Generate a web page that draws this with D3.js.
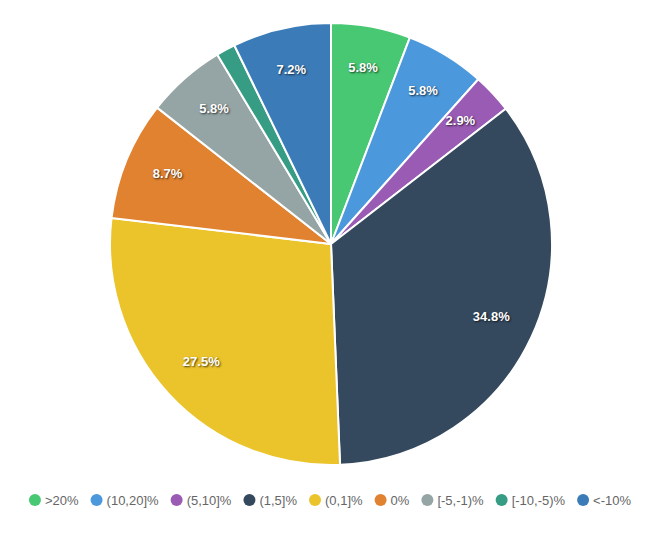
<!DOCTYPE html>
<html>
<head>
<meta charset="utf-8">
<script src="https://cdn.jsdelivr.net/npm/d3@7"></script>
<style>
  html, body { margin: 0; padding: 0; background: #fff; }
  svg { display: block; }
  .lbl { font-family: "Liberation Sans", Arial, sans-serif; font-weight: bold; font-size: 13px; fill: #fff; text-shadow: 1px 1px 2px rgba(0,0,0,0.7); }
  .leg { font-family: "Liberation Sans", Arial, sans-serif; font-size: 13px; fill: #666; }
</style>
</head>
<body>
<svg id="chart" width="664" height="539"></svg>
<script>
const categories = [">20%", "(10,20]%", "(5,10]%", "(1,5]%", "(0,1]%", "0%", "[-5,-1)%", "[-10,-5)%", "<-10%"];
const values = [5.8, 5.8, 2.9, 34.8, 27.5, 8.7, 5.8, 1.4, 7.2];
const labels = ["5.8%", "5.8%", "2.9%", "34.8%", "27.5%", "8.7%", "5.8%", "", "7.2%"];
const colors = ["#48c872", "#4b98dc", "#9a5bb5", "#35495e", "#ebc32b", "#e0822f", "#95a4a5", "#369c83", "#3b7cb8"];

const svg = d3.select("#chart");
const cx = 331, cy = 244, r = 221;

const data = categories.map((c, i) => ({ cat: c, value: values[i], label: labels[i], color: colors[i] }));
const pie = d3.pie().sort(null).value(d => d.value);
const arc = d3.arc().innerRadius(0).outerRadius(r);
const labelArc = d3.arc().innerRadius(r * 0.8).outerRadius(r * 0.8);

const g = svg.append("g").attr("transform", `translate(${cx},${cy})`);
const arcs = pie(data);

g.selectAll("path").data(arcs).enter().append("path")
  .attr("d", arc)
  .attr("fill", d => d.data.color)
  .attr("stroke", "#fff")
  .attr("stroke-width", 2)
  .attr("stroke-linejoin", "round");

g.selectAll("text").data(arcs.filter(d => d.data.label)).enter().append("text")
  .attr("class", "lbl")
  .attr("transform", d => `translate(${labelArc.centroid(d)})`)
  .attr("text-anchor", "middle")
  .attr("dy", "0.15em")
  .text(d => d.data.label);

// Legend
const leg = svg.append("g");
const items = leg.selectAll("g").data(data).enter().append("g");
items.append("circle").attr("r", 6).attr("fill", d => d.color);
items.append("text").attr("class", "leg").attr("x", 10).attr("dy", "0.35em").text(d => d.cat);
let x = 0;
items.each(function(d) {
  const w = d3.select(this).select("text").node().getComputedTextLength();
  d3.select(this).attr("transform", `translate(${x},0)`);
  x += 10 + w + 18;
});
const totalW = x - 18 + 6;
leg.attr("transform", `translate(${330 - totalW / 2 + 6},500)`);
</script>
</body>
</html>
